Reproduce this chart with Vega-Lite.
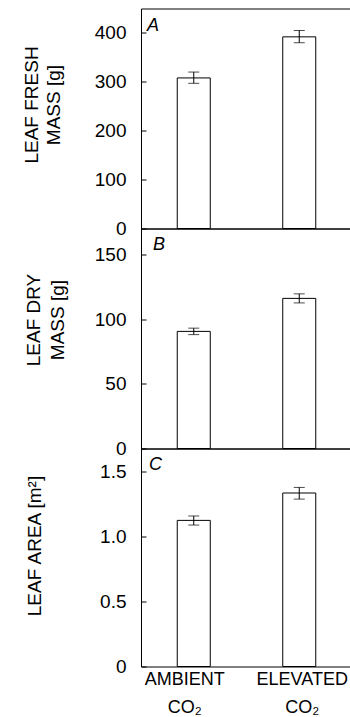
{
  "$schema": "https://vega.github.io/schema/vega-lite/v6.json",
  "padding": {"left": 21, "top": 7.5, "right": 0, "bottom": 0},
  "spacing": 0,
  "bounds": "flush",
  "config": {
    "font": "Liberation Sans",
    "view": {"stroke": "black", "strokeWidth": 1},
    "axis": {
      "grid": false,
      "domain": false,
      "labelFontSize": 19,
      "labelColor": "black",
      "titleColor": "black",
      "titleFontSize": 19,
      "titleFontWeight": "normal",
      "tickColor": "black"
    },
    "axisY": {
      "tickSize": -5,
      "labelPadding": 20,
      "titleAngle": -90,
      "titleAlign": "center",
      "titleBaseline": "alphabetic"
    },
    "title": {
      "anchor": "start",
      "frame": "group",
      "fontStyle": "italic",
      "fontWeight": "normal",
      "fontSize": 18,
      "color": "black",
      "baseline": "alphabetic",
      "offset": 0
    }
  },
  "datasets": {
    "fresh": [
      {"treatment": "AMBIENT", "mean": 308, "lo": 297, "hi": 320},
      {"treatment": "ELEVATED", "mean": 392, "lo": 380, "hi": 405}
    ],
    "dry": [
      {"treatment": "AMBIENT", "mean": 90.5, "lo": 88, "hi": 93},
      {"treatment": "ELEVATED", "mean": 116, "lo": 112.5, "hi": 119.5}
    ],
    "area": [
      {"treatment": "AMBIENT", "mean": 1.126, "lo": 1.09, "hi": 1.16},
      {"treatment": "ELEVATED", "mean": 1.337, "lo": 1.29, "hi": 1.38}
    ]
  },
  "vconcat": [
    {
      "width": 211,
      "height": 220,
      "title": {"text": "A", "dy": 30.5, "dx": 6},
      "data": {"name": "fresh"},
      "encoding": {
        "x": {"field": "treatment", "type": "nominal", "sort": ["AMBIENT", "ELEVATED"],
              "scale": {"paddingInner": 0.687, "paddingOuter": 0.3435}, "axis": null}
      },
      "layer": [
        {
          "mark": {"type": "bar", "fill": "white", "stroke": "black", "strokeWidth": 1},
          "encoding": {
            "y": {"field": "mean", "type": "quantitative", "scale": {"domain": [0, 450], "nice": false},
                  "axis": {"values": [0, 100, 200, 300, 400], "title": ["LEAF FRESH", "MASS [g]"],
                           "titleX": -103.5, "titleY": 96, "titleLineHeight": 22}}
          }
        },
        {
          "mark": {"type": "rule", "color": "black", "strokeWidth": 1},
          "encoding": {"y": {"field": "lo", "type": "quantitative", "title": ["LEAF FRESH", "MASS [g]"]}, "y2": {"field": "hi"}}
        },
        {
          "mark": {"type": "tick", "color": "black", "size": 11, "thickness": 1},
          "encoding": {"y": {"field": "lo", "type": "quantitative", "title": ["LEAF FRESH", "MASS [g]"]}}
        },
        {
          "mark": {"type": "tick", "color": "black", "size": 11, "thickness": 1},
          "encoding": {"y": {"field": "hi", "type": "quantitative", "title": ["LEAF FRESH", "MASS [g]"]}}
        }
      ]
    },
    {
      "width": 211,
      "height": 220,
      "title": {"text": "B", "dy": 29.5, "dx": 12},
      "data": {"name": "dry"},
      "encoding": {
        "x": {"field": "treatment", "type": "nominal", "sort": ["AMBIENT", "ELEVATED"],
              "scale": {"paddingInner": 0.687, "paddingOuter": 0.3435}, "axis": null}
      },
      "layer": [
        {
          "mark": {"type": "bar", "fill": "white", "stroke": "black", "strokeWidth": 1},
          "encoding": {
            "y": {"field": "mean", "type": "quantitative", "scale": {"domain": [0, 170], "nice": false},
                  "axis": {"values": [0, 50, 100, 150], "title": ["LEAF DRY", "MASS [g]"],
                           "titleX": -102, "titleY": 91, "titleLineHeight": 24}}
          }
        },
        {
          "mark": {"type": "rule", "color": "black", "strokeWidth": 1},
          "encoding": {"y": {"field": "lo", "type": "quantitative", "title": ["LEAF DRY", "MASS [g]"]}, "y2": {"field": "hi"}}
        },
        {
          "mark": {"type": "tick", "color": "black", "size": 11, "thickness": 1},
          "encoding": {"y": {"field": "lo", "type": "quantitative", "title": ["LEAF DRY", "MASS [g]"]}}
        },
        {
          "mark": {"type": "tick", "color": "black", "size": 11, "thickness": 1},
          "encoding": {"y": {"field": "hi", "type": "quantitative", "title": ["LEAF DRY", "MASS [g]"]}}
        }
      ]
    },
    {
      "width": 211,
      "height": 218,
      "title": {"text": "C", "dy": 29.5, "dx": 8},
      "data": {"name": "area"},
      "encoding": {
        "x": {"field": "treatment", "type": "nominal", "sort": ["AMBIENT", "ELEVATED"],
              "scale": {"paddingInner": 0.687, "paddingOuter": 0.3435},
              "axis": {"title": null, "labelAngle": 0, "ticks": false, "labelPadding": 4, "labelFontSize": 18,
                       "labelExpr": "[datum.value, 'CO₂']", "labelLineHeight": 28,
                       "labelOffset": {"condition": {"test": "datum.value == 'AMBIENT'", "value": -9}, "value": 3}}}
      },
      "layer": [
        {
          "mark": {"type": "bar", "fill": "white", "stroke": "black", "strokeWidth": 1},
          "encoding": {
            "y": {"field": "mean", "type": "quantitative", "scale": {"domain": [0, 1.68], "nice": false},
                  "axis": {"values": [0, 0.5, 1, 1.5], "title": "LEAF AREA [m²]",
                           "labelExpr": "datum.value == 0 ? '0' : format(datum.value, '.1f')",
                           "titleX": -100.5, "titleY": 97}}
          }
        },
        {
          "mark": {"type": "rule", "color": "black", "strokeWidth": 1},
          "encoding": {"y": {"field": "lo", "type": "quantitative", "title": "LEAF AREA [m²]"}, "y2": {"field": "hi"}}
        },
        {
          "mark": {"type": "tick", "color": "black", "size": 11, "thickness": 1},
          "encoding": {"y": {"field": "lo", "type": "quantitative", "title": "LEAF AREA [m²]"}}
        },
        {
          "mark": {"type": "tick", "color": "black", "size": 11, "thickness": 1},
          "encoding": {"y": {"field": "hi", "type": "quantitative", "title": "LEAF AREA [m²]"}}
        }
      ]
    }
  ]
}
